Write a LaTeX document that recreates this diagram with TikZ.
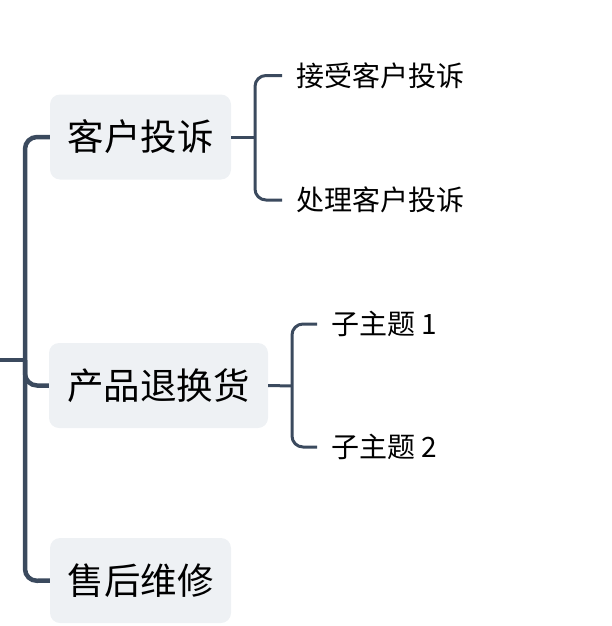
\documentclass[tikz,border=0pt]{standalone}
\usepackage{fontspec}
\setmainfont{Noto Sans CJK SC}
\definecolor{linec}{HTML}{3B4A5E}
\definecolor{boxc}{HTML}{EEF1F4}
\tikzset{
  topicbox/.style={fill=boxc, rounded corners=10pt, minimum height=85pt, inner sep=0pt, font=\fontsize{36.5}{42}\selectfont, text=black},
  subtext/.style={anchor=west, inner xsep=14pt, inner ysep=0pt, font=\fontsize{28}{32}\selectfont, text=black},
  trunkline/.style={draw=linec, line width=4.5pt, rounded corners=12pt},
  subline/.style={draw=linec, line width=3pt, rounded corners=11pt},
}
\begin{document}
\begin{tikzpicture}[x=1pt,y=-1pt]
\useasboundingbox (0,0) rectangle (611,626);
% topic boxes
\node[topicbox, minimum width=181pt] (t1) at (140.5,137) {客户投诉};
\node[topicbox, minimum width=219pt] (t2) at (158.5,385.5) {产品退换货};
\node[topicbox, minimum width=181pt] (t3) at (140.5,580.5) {售后维修};
% junction coordinates
\coordinate (root) at (0,360);
\coordinate (jr) at (25,360);
\coordinate (j1) at (25,137);
\coordinate (j3) at (25,581);
% trunk
\draw[trunkline] (t1.west) -- (j1) -- (j3) -- (t3.west);
\draw[trunkline] (root) -- (jr);
\draw[trunkline] (jr) |- (t2.west);
% children of topic 1
\node[subtext] (a1) at (282,75.5) {接受客户投诉};
\node[subtext] (a2) at (282,200) {处理客户投诉};
\coordinate (k1) at (255,137);
\draw[subline] (t1.east) -- (k1);
\draw[subline] (a1.west) -| (k1) |- (a2.west);
% children of topic 2
\node[subtext] (b1) at (317,324) {子主题 1};
\node[subtext] (b2) at (317,447) {子主题 2};
\coordinate (k2) at (292,386);
\draw[subline] (t2.east) -- (k2);
\draw[subline] (b1.west) -| (k2) |- (b2.west);
\end{tikzpicture}
\end{document}
